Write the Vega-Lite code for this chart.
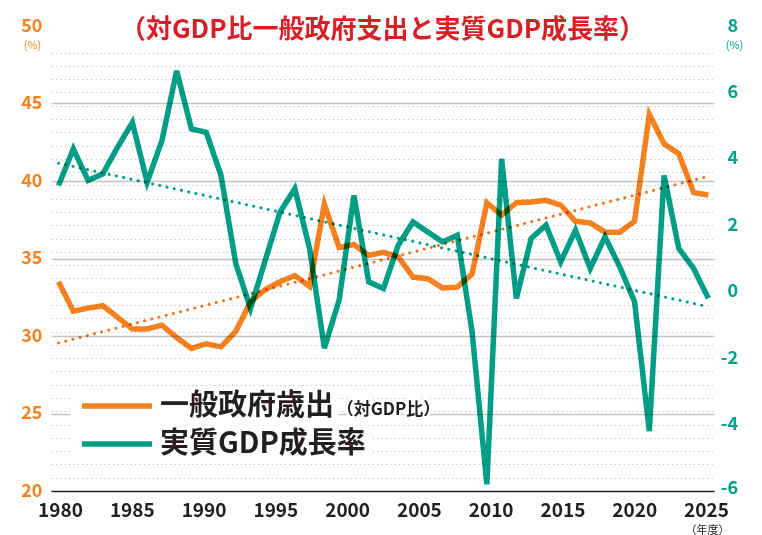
{
  "$schema": "https://vega.github.io/schema/vega-lite/v6.json",
  "width": 663,
  "height": 465,
  "autosize": {"type": "none"},
  "padding": {"left": 51, "top": 26, "right": 48, "bottom": 44},
  "background": "white",
  "config": {
    "view": {"stroke": null},
    "font": "Noto Sans CJK JP",
    "legend": {
      "orient": "none",
      "padding": 4,
      "fillColor": "white",
      "labelOffset": 56.5,
      "labelFontSize": 29,
      "labelFont": "Noto Sans CJK JP",
      "labelFontWeight": "bold",
      "labelColor": "#231f20",
      "labelLimit": 0,
      "symbolType": "M-1,0H9",
      "symbolSize": 196,
      "symbolStrokeWidth": 5.5,
      "title": null
    }
  },
  "title": {
    "text": "（対GDP比一般政府支出と実質GDP成長率）",
    "anchor": "middle",
    "frame": "group",
    "font": "Noto Sans CJK JP",
    "fontSize": 26,
    "fontWeight": "bold",
    "color": "#d81f26",
    "baseline": "middle",
    "offset": -37,
    "dy": 2
  },
  "datasets": {
    "series": [
      {"year": 1980, "series": "一般政府歳出", "value": 33.5},
      {"year": 1981, "series": "一般政府歳出", "value": 31.6},
      {"year": 1982, "series": "一般政府歳出", "value": 31.8},
      {"year": 1983, "series": "一般政府歳出", "value": 31.95},
      {"year": 1984, "series": "一般政府歳出", "value": 31.2},
      {"year": 1985, "series": "一般政府歳出", "value": 30.45},
      {"year": 1986, "series": "一般政府歳出", "value": 30.45},
      {"year": 1987, "series": "一般政府歳出", "value": 30.7},
      {"year": 1988, "series": "一般政府歳出", "value": 29.9},
      {"year": 1989, "series": "一般政府歳出", "value": 29.2},
      {"year": 1990, "series": "一般政府歳出", "value": 29.5},
      {"year": 1991, "series": "一般政府歳出", "value": 29.3},
      {"year": 1992, "series": "一般政府歳出", "value": 30.3},
      {"year": 1993, "series": "一般政府歳出", "value": 32.2},
      {"year": 1994, "series": "一般政府歳出", "value": 33.0},
      {"year": 1995, "series": "一般政府歳出", "value": 33.5},
      {"year": 1996, "series": "一般政府歳出", "value": 33.9},
      {"year": 1997, "series": "一般政府歳出", "value": 33.2},
      {"year": 1998, "series": "一般政府歳出", "value": 38.5},
      {"year": 1999, "series": "一般政府歳出", "value": 35.7},
      {"year": 2000, "series": "一般政府歳出", "value": 35.9},
      {"year": 2001, "series": "一般政府歳出", "value": 35.2},
      {"year": 2002, "series": "一般政府歳出", "value": 35.4},
      {"year": 2003, "series": "一般政府歳出", "value": 35.1},
      {"year": 2004, "series": "一般政府歳出", "value": 33.8},
      {"year": 2005, "series": "一般政府歳出", "value": 33.7},
      {"year": 2006, "series": "一般政府歳出", "value": 33.1},
      {"year": 2007, "series": "一般政府歳出", "value": 33.15},
      {"year": 2008, "series": "一般政府歳出", "value": 34.0},
      {"year": 2009, "series": "一般政府歳出", "value": 38.6},
      {"year": 2010, "series": "一般政府歳出", "value": 37.8},
      {"year": 2011, "series": "一般政府歳出", "value": 38.6},
      {"year": 2012, "series": "一般政府歳出", "value": 38.65},
      {"year": 2013, "series": "一般政府歳出", "value": 38.75},
      {"year": 2014, "series": "一般政府歳出", "value": 38.45},
      {"year": 2015, "series": "一般政府歳出", "value": 37.4},
      {"year": 2016, "series": "一般政府歳出", "value": 37.3},
      {"year": 2017, "series": "一般政府歳出", "value": 36.7},
      {"year": 2018, "series": "一般政府歳出", "value": 36.7},
      {"year": 2019, "series": "一般政府歳出", "value": 37.4},
      {"year": 2020, "series": "一般政府歳出", "value": 44.3},
      {"year": 2021, "series": "一般政府歳出", "value": 42.4},
      {"year": 2022, "series": "一般政府歳出", "value": 41.75},
      {"year": 2023, "series": "一般政府歳出", "value": 39.25},
      {"year": 2024, "series": "一般政府歳出", "value": 39.1},
      {"year": 1980, "series": "実質GDP成長率", "value": 3.2},
      {"year": 1981, "series": "実質GDP成長率", "value": 4.3},
      {"year": 1982, "series": "実質GDP成長率", "value": 3.35},
      {"year": 1983, "series": "実質GDP成長率", "value": 3.55},
      {"year": 1984, "series": "実質GDP成長率", "value": 4.35},
      {"year": 1985, "series": "実質GDP成長率", "value": 5.1},
      {"year": 1986, "series": "実質GDP成長率", "value": 3.3},
      {"year": 1987, "series": "実質GDP成長率", "value": 4.55},
      {"year": 1988, "series": "実質GDP成長率", "value": 6.65},
      {"year": 1989, "series": "実質GDP成長率", "value": 4.9},
      {"year": 1990, "series": "実質GDP成長率", "value": 4.8},
      {"year": 1991, "series": "実質GDP成長率", "value": 3.5},
      {"year": 1992, "series": "実質GDP成長率", "value": 0.85},
      {"year": 1993, "series": "実質GDP成長率", "value": -0.5},
      {"year": 1994, "series": "実質GDP成長率", "value": 0.95},
      {"year": 1995, "series": "実質GDP成長率", "value": 2.4},
      {"year": 1996, "series": "実質GDP成長率", "value": 3.1},
      {"year": 1997, "series": "実質GDP成長率", "value": 1.3},
      {"year": 1998, "series": "実質GDP成長率", "value": -1.7},
      {"year": 1999, "series": "実質GDP成長率", "value": -0.25},
      {"year": 2000, "series": "実質GDP成長率", "value": 2.9},
      {"year": 2001, "series": "実質GDP成長率", "value": 0.3},
      {"year": 2002, "series": "実質GDP成長率", "value": 0.1},
      {"year": 2003, "series": "実質GDP成長率", "value": 1.4},
      {"year": 2004, "series": "実質GDP成長率", "value": 2.1},
      {"year": 2005, "series": "実質GDP成長率", "value": 1.8},
      {"year": 2006, "series": "実質GDP成長率", "value": 1.5},
      {"year": 2007, "series": "実質GDP成長率", "value": 1.7},
      {"year": 2008, "series": "実質GDP成長率", "value": -1.2},
      {"year": 2009, "series": "実質GDP成長率", "value": -5.8},
      {"year": 2010, "series": "実質GDP成長率", "value": 4.0},
      {"year": 2011, "series": "実質GDP成長率", "value": -0.2},
      {"year": 2012, "series": "実質GDP成長率", "value": 1.6},
      {"year": 2013, "series": "実質GDP成長率", "value": 2.0},
      {"year": 2014, "series": "実質GDP成長率", "value": 0.9},
      {"year": 2015, "series": "実質GDP成長率", "value": 1.85},
      {"year": 2016, "series": "実質GDP成長率", "value": 0.7},
      {"year": 2017, "series": "実質GDP成長率", "value": 1.65},
      {"year": 2018, "series": "実質GDP成長率", "value": 0.75},
      {"year": 2019, "series": "実質GDP成長率", "value": -0.3},
      {"year": 2020, "series": "実質GDP成長率", "value": -4.2},
      {"year": 2021, "series": "実質GDP成長率", "value": 3.5},
      {"year": 2022, "series": "実質GDP成長率", "value": 1.3},
      {"year": 2023, "series": "実質GDP成長率", "value": 0.7},
      {"year": 2024, "series": "実質GDP成長率", "value": -0.2}
    ],
    "trend": [
      {"year": 1980, "series": "一般政府歳出", "value": 29.55},
      {"year": 2024, "series": "一般政府歳出", "value": 40.3},
      {"year": 1980, "series": "実質GDP成長率", "value": 3.87},
      {"year": 2024, "series": "実質GDP成長率", "value": -0.45}
    ]
  },
  "layer": [
    {
      "data": {"values": [{"note": "（対GDP比）"}]},
      "encoding": {
        "x": {
          "datum": 1999.27,
          "type": "quantitative",
          "scale": {"domain": [1979.37, 2025.56], "nice": false, "zero": false},
          "axis": {
            "orient": "bottom",
            "values": [1980, 1985, 1990, 1995, 2000, 2005, 2010, 2015, 2020, 2025],
            "format": "d",
            "grid": false,
            "ticks": false,
            "tickSize": 0,
            "domain": true,
            "domainColor": "#231f20",
            "domainWidth": 1.5,
            "labelFont": "Noto Sans CJK JP",
            "labelFontSize": 19,
            "labelFontWeight": "bold",
            "labelColor": "#231f20",
            "labelPadding": 10,
            "labelFlush": false,
            "labelOverlap": false,
            "title": "（年度）",
            "titleFont": "Noto Sans CJK JP",
            "titleFontSize": 11,
            "titleFontWeight": "normal",
            "titleColor": "#231f20",
            "titleX": 656,
            "titleY": 39,
            "titleAlign": "center",
            "titleBaseline": "middle"
          }
        },
        "y": {
          "datum": -3.56,
          "type": "quantitative",
          "scale": {"domain": [-6, 8], "nice": false, "zero": false},
          "axis": {
            "orient": "left",
            "values": [-5.6, -5.2, -4.8, -4.4, -4, -3.6, -3.2, -2.8, -2.4, -2, -1.6, -1.2, -0.8, -0.4, 0, 0.4, 0.8, 1.2, 1.6, 2, 2.4, 2.8, 3.2, 3.6, 4, 4.4, 4.8, 5.2, 5.6, 6, 6.4, 6.8, 7.2],
            "labels": false,
            "domain": false,
            "ticks": false,
            "tickSize": 0,
            "title": null,
            "grid": true,
            "gridColor": "#bdbdbd",
            "gridWidth": 1.2,
            "gridDash": [1.2, 3.2]
          }
        },
        "text": {"field": "note", "type": "nominal"}
      },
      "layer": [
        {"mark": {"type": "text", "align": "left", "baseline": "middle", "font": "Noto Sans CJK JP", "fontSize": 17, "fontWeight": "bold", "fill": "white", "stroke": "white", "strokeWidth": 5}},
        {"mark": {"type": "text", "align": "left", "baseline": "middle", "font": "Noto Sans CJK JP", "fontSize": 17, "fontWeight": "bold", "color": "#231f20"}}
      ]
    },
    {
      "layer": [
        {
          "data": {"name": "series"},
          "transform": [{"filter": "datum.series === '一般政府歳出'"}],
          "mark": {"type": "line", "strokeWidth": 5.5, "blend": "multiply"},
          "encoding": {
            "x": {"field": "year", "type": "quantitative", "scale": {"domain": [1979.49, 2024.38], "nice": false, "zero": false}, "axis": null},
            "y": {
              "field": "value",
              "type": "quantitative",
              "scale": {"domain": [20, 50], "nice": false, "zero": false},
              "axis": {
                "orient": "left",
                "values": [20, 25, 30, 35, 40, 45, 50],
                "domain": false,
                "ticks": false,
                "tickSize": 0,
                "grid": true,
                "gridColor": "#c4c4c4",
                "gridWidth": 1.3,
                "gridOpacity": {"condition": {"test": "datum.value <= 20 || datum.value >= 50", "value": 0}, "value": 1},
                "labelFont": "Noto Sans CJK JP",
                "labelFontSize": 18,
                "labelFontWeight": "bold",
                "labelColor": "#f5821f",
                "labelPadding": 9,
                "labelOverlap": false,
                "title": "(%)",
                "titleFont": "Noto Sans CJK JP",
                "titleFontSize": 11,
                "titleFontWeight": "normal",
                "titleColor": "#f5821f",
                "titleAngle": 0,
                "titleX": -19,
                "titleY": 19,
                "titleAlign": "center",
                "titleBaseline": "middle"
              }
            },
            "stroke": {
              "field": "series",
              "type": "nominal",
              "scale": {"domain": ["一般政府歳出"], "range": ["#f5821f"]},
              "legend": {"legendX": 19.5, "legendY": 361.5}
            }
          }
        },
        {
          "data": {"name": "trend"},
          "transform": [{"filter": "datum.series === '一般政府歳出'"}],
          "mark": {"type": "line", "color": "#f27420", "strokeWidth": 3, "strokeCap": "round", "strokeDash": [0.1, 7.3], "blend": "multiply"},
          "encoding": {
            "x": {"field": "year", "type": "quantitative"},
            "y": {"field": "value", "type": "quantitative"}
          }
        }
      ]
    },
    {
      "layer": [
        {
          "data": {"name": "series"},
          "transform": [{"filter": "datum.series === '実質GDP成長率'"}],
          "mark": {"type": "line", "strokeWidth": 5.5, "blend": "multiply"},
          "encoding": {
            "x": {"field": "year", "type": "quantitative", "scale": {"domain": [1979.49, 2024.38], "nice": false, "zero": false}, "axis": null},
            "y": {
              "field": "value",
              "type": "quantitative",
              "scale": {"domain": [-6, 8], "nice": false, "zero": false},
              "axis": {
                "orient": "right",
                "values": [-6, -4, -2, 0, 2, 4, 6, 8],
                "labelExpr": "'' + datum.value",
                "domain": false,
                "ticks": false,
                "tickSize": 0,
                "grid": false,
                "labelFont": "Noto Sans CJK JP",
                "labelFontSize": 18,
                "labelFontWeight": "bold",
                "labelColor": "#00a08a",
                "labelAlign": "right",
                "labelPadding": 23.5,
                "labelOffset": {"condition": {"test": "datum.value === -6", "value": -3}, "value": 0},
                "labelOverlap": false,
                "title": "(%)",
                "titleFont": "Noto Sans CJK JP",
                "titleFontSize": 11,
                "titleFontWeight": "normal",
                "titleColor": "#00a08a",
                "titleAngle": 0,
                "titleX": 20,
                "titleY": 19,
                "titleAlign": "center",
                "titleBaseline": "middle"
              }
            },
            "color": {
              "field": "series",
              "type": "nominal",
              "scale": {"domain": ["実質GDP成長率"], "range": ["#009e87"]},
              "legend": {"legendX": 19.5, "legendY": 399.5}
            }
          }
        },
        {
          "data": {"name": "trend"},
          "transform": [{"filter": "datum.series === '実質GDP成長率'"}],
          "mark": {"type": "line", "color": "#00a088", "strokeWidth": 3, "strokeCap": "round", "strokeDash": [0.1, 7.3], "blend": "multiply"},
          "encoding": {
            "x": {"field": "year", "type": "quantitative"},
            "y": {"field": "value", "type": "quantitative"}
          }
        }
      ]
    }
  ],
  "resolve": {
    "scale": {"x": "independent", "y": "independent"},
    "axis": {"x": "independent", "y": "independent"}
  }
}
